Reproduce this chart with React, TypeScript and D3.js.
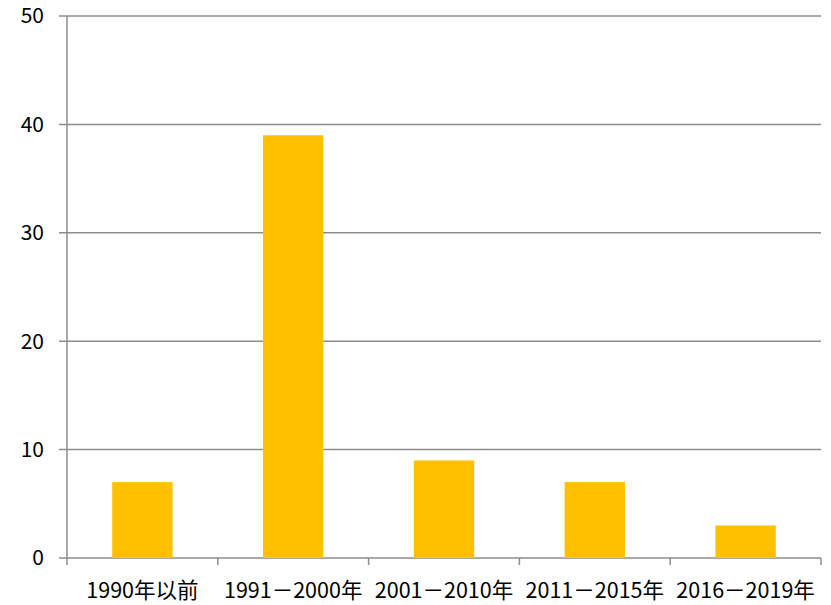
import * as d3 from "d3";

const categories = ["1990年以前", "1991－2000年", "2001－2010年", "2011－2015年", "2016－2019年"];
const values = [7, 39, 9, 7, 3];
const yTicks = [0, 10, 20, 30, 40, 50];

export default function App() {
  const width = 831;
  const height = 605;
  const left = 67;
  const right = 821;
  const top = 16;
  const bottom = 558;

  const x = d3.scaleBand().domain(categories).range([left, right]).paddingInner(0.6).paddingOuter(0.3);
  const xEdges = d3.scaleLinear().domain([0, categories.length]).range([left, right]);
  const y = d3.scaleLinear().domain([0, 50]).range([bottom, top]);
  const axisColor = "#8c8c8c";

  return (
    <svg
      width={width}
      height={height}
      style={{ position: "absolute", left: 0, top: 0, background: "#fff" }}
      fontFamily="'Noto Sans CJK SC', 'Noto Sans', sans-serif"
    >
      {yTicks.map((t) => (
        <g key={t}>
          <line x1={left - 8} x2={right} y1={y(t)} y2={y(t)} stroke={axisColor} strokeWidth={1.5} />
          <text x={left - 23} y={y(t)} dy="0.35em" textAnchor="end" fontSize={21} fill="#000">
            {t}
          </text>
        </g>
      ))}
      <line x1={left} x2={left} y1={top} y2={bottom} stroke={axisColor} strokeWidth={1.5} />
      {d3.range(categories.length + 1).map((i) => (
        <line key={i} x1={xEdges(i)} x2={xEdges(i)} y1={bottom} y2={bottom + 7} stroke={axisColor} strokeWidth={1.5} />
      ))}
      {categories.map((c, i) => (
        <rect key={c} x={x(c)} y={y(values[i])} width={x.bandwidth()} height={bottom - y(values[i])} fill="#ffc000" />
      ))}
      {categories.map((c) => (
        <text key={c} x={(x(c) ?? 0) + x.bandwidth() / 2} y={598} textAnchor="middle" fontSize={21.5} fill="#000">
          {c}
        </text>
      ))}
    </svg>
  );
}
